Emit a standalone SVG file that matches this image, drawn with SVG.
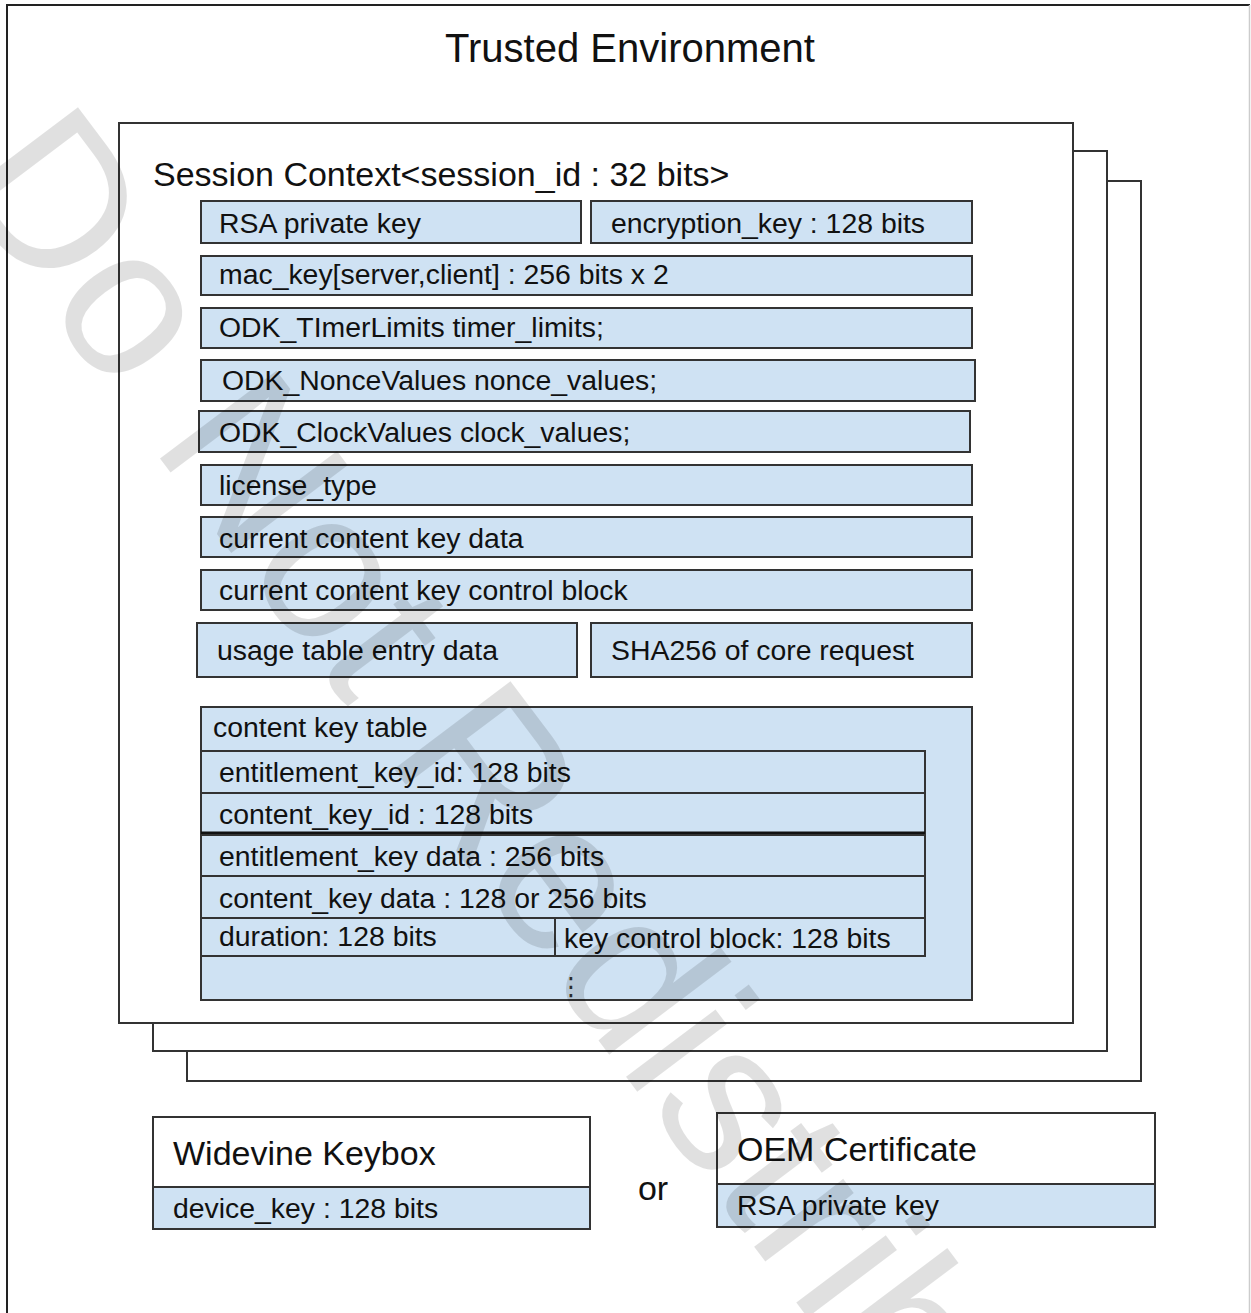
<svg xmlns="http://www.w3.org/2000/svg" width="1251" height="1313" viewBox="0 0 1251 1313">
<style>
text{font-family:"Liberation Sans",Arial,sans-serif;fill:#111}
.page{fill:#fff;stroke:#333;stroke-width:2}
.cell{fill:#cfe2f3;stroke:#333;stroke-width:2}
.wbox{fill:#fff;stroke:#333;stroke-width:2}
.t28{font-size:28.4px}
.t34{font-size:34px}
.wm{font-family:"Liberation Sans",Arial,sans-serif;font-size:212px;fill:#000;fill-opacity:0.12}
</style>
<rect x="0" y="0" width="1251" height="1313" fill="#fff"/>
<g id="frame">
<path d="M7,1313 V5 H1250" fill="none" stroke="#222" stroke-width="2"/>
<path d="M1249.5,5 V1313" fill="none" stroke="#ccc" stroke-width="1.5"/>
<text x="630" y="62" text-anchor="middle" style="font-size:40px">Trusted Environment</text>
</g>
<g id="pages">
<rect class="page" x="187" y="181" width="954" height="900"/>
<rect class="page" x="153" y="151" width="954" height="900"/>
<rect class="page" x="119" y="123" width="954" height="900"/>
</g>
<g id="session">
<text class="t34" x="153" y="186">Session Context&lt;session_id : 32 bits&gt;</text>
<g id="rsa"><rect class="cell" x="201" y="201" width="380" height="42"/><text class="t28" x="219" y="233">RSA private key</text></g>
<g id="enc"><rect class="cell" x="591" y="201" width="381" height="42"/><text class="t28" x="611" y="233">encryption_key : 128 bits</text></g>
<g id="mac"><rect class="cell" x="201" y="256" width="771" height="39"/><text class="t28" x="219" y="284">mac_key[server,client] : 256 bits x 2</text></g>
<g id="timer"><rect class="cell" x="201" y="308" width="771" height="40"/><text class="t28" x="219" y="337">ODK_TImerLimits timer_limits;</text></g>
<g id="nonce"><rect class="cell" x="201" y="360" width="774" height="41"/><text class="t28" x="222" y="390">ODK_NonceValues nonce_values;</text></g>
<g id="clock"><rect class="cell" x="199" y="411" width="771" height="41"/><text class="t28" x="219" y="442">ODK_ClockValues clock_values;</text></g>
<g id="license"><rect class="cell" x="201" y="465" width="771" height="40"/><text class="t28" x="219" y="495">license_type</text></g>
<g id="ckdata"><rect class="cell" x="201" y="517" width="771" height="40"/><text class="t28" x="219" y="548">current content key data</text></g>
<g id="ckcb"><rect class="cell" x="201" y="570" width="771" height="40"/><text class="t28" x="219" y="600">current content key control block</text></g>
<g id="usage"><rect class="cell" x="197" y="623" width="380" height="54"/><text class="t28" x="217" y="660">usage table entry data</text></g>
<g id="sha"><rect class="cell" x="591" y="623" width="381" height="54"/><text class="t28" x="611" y="660">SHA256 of core request</text></g>
<g id="ckt">
<rect class="cell" x="201" y="707" width="771" height="293"/>
<text class="t28" x="213" y="737">content key table</text>
<rect class="cell" x="201" y="751" width="724" height="42"/><text class="t28" x="219" y="782">entitlement_key_id: 128 bits</text>
<rect class="cell" x="201" y="793" width="724" height="40"/><text class="t28" x="219" y="824">content_key_id  : 128 bits</text>
<line x1="201" y1="833" x2="925" y2="833" stroke="#111" stroke-width="3"/>
<rect class="cell" x="201" y="835" width="724" height="41"/><text class="t28" x="219" y="866">entitlement_key data : 256 bits</text>
<rect class="cell" x="201" y="876" width="724" height="42"/><text class="t28" x="219" y="908">content_key data : 128 or 256 bits</text>
<rect class="cell" x="201" y="918" width="354" height="38"/><text class="t28" x="219" y="946">duration: 128 bits</text>
<rect class="cell" x="555" y="918" width="370" height="38"/><text class="t28" x="564" y="948">key control block: 128 bits</text>
<text x="571" y="995" text-anchor="middle" style="font-family:'DejaVu Sans',sans-serif;font-size:25px;fill:#333">⋮</text>
</g>
</g>
<g id="keybox">
<rect class="wbox" x="153" y="1117" width="437" height="70"/>
<rect class="cell" x="153" y="1187" width="437" height="42"/>
<text class="t34" x="173" y="1165">Widevine Keybox</text>
<text class="t28" x="173" y="1218">device_key : 128 bits</text>
</g>
<g id="or"><text class="t34" x="653" y="1200" text-anchor="middle">or</text></g>
<g id="oem">
<rect class="wbox" x="717" y="1113" width="438" height="71"/>
<rect class="cell" x="717" y="1184" width="438" height="43"/>
<text class="t34" x="737" y="1161">OEM Certificate</text>
<text class="t28" x="737" y="1215">RSA private key</text>
</g>
<g id="watermark">
<text class="wm" transform="translate(-49,181) rotate(53)">Do Not Redistribute</text>
</g>
</svg>
